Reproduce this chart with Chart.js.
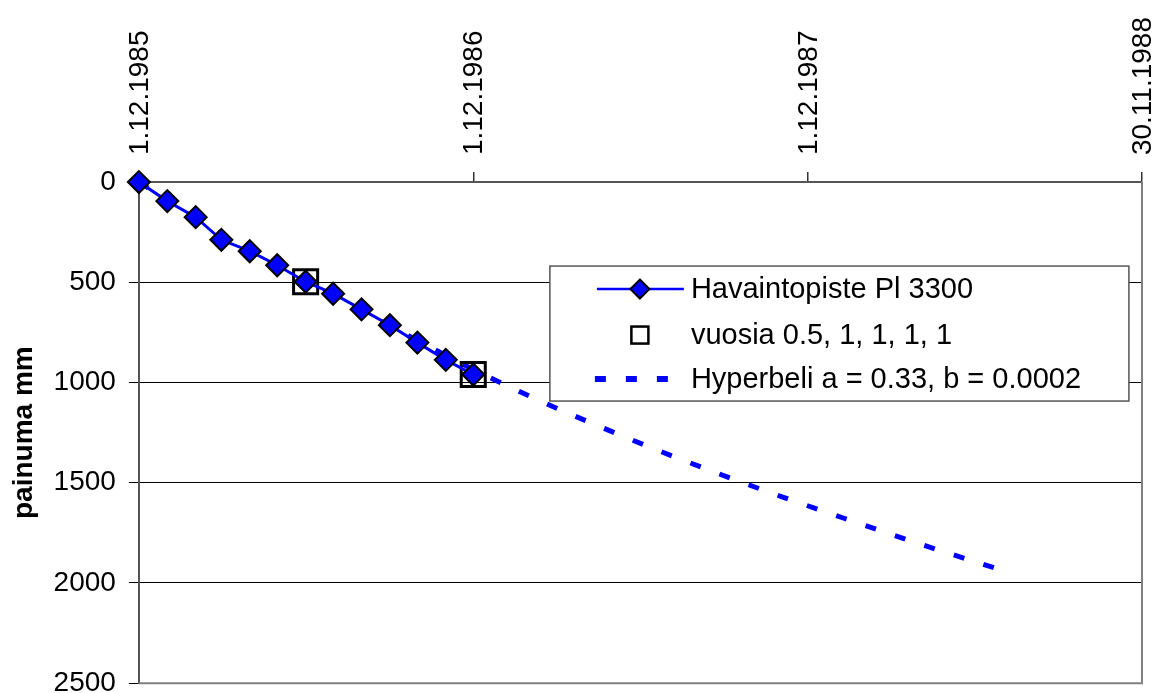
<!DOCTYPE html>
<html>
<head>
<meta charset="utf-8">
<script src="https://cdn.jsdelivr.net/npm/chart.js@4/dist/chart.umd.min.js"></script>
<style>
  html, body { margin: 0; padding: 0; background: #fff; overflow: hidden; }
  #wrap { width: 1162px; height: 713px; }
</style>
</head>
<body>
<div id="wrap"><canvas id="settlementChart" width="1162" height="713"></canvas></div>
<script>
// ── Data (x = days from 1.12.1985, y = painuma mm) ──
const obsDays = [0, 31, 62, 90, 121, 151, 182, 212, 243, 274, 304, 335, 365];
const obsValues = [0, 95, 175, 288, 345, 415, 497, 557, 635, 714, 801, 887, 960];

const yearDays = [182, 365];
const yearValues = [497, 960];

const hypDays = [0, 61, 121, 182, 243, 304, 365, 437, 498, 563, 630, 702, 778, 859, 948];
const hypValues = [0, 178, 340, 495, 645, 790, 935, 1090, 1210, 1332, 1450, 1570, 1690, 1815, 1945];

const tickDays = [0, 365, 730, 1095];
const tickLabels = ['1.12.1985', '1.12.1986', '1.12.1987', '30.11.1988'];
const yTicks = [0, 500, 1000, 1500, 2000, 2500];

const seriesNames = ['Havaintopiste Pl 3300', 'vuosia 0.5, 1, 1, 1, 1', 'Hyperbeli a = 0.33, b = 0.0002'];

const blue = '#0000FF';
const fontFamily = "'Liberation Sans', Arial, sans-serif";

const toPoints = (xs, ys) => xs.map((x, i) => ({ x: x, y: ys[i] }));

// plot frame (right + bottom) and the boxed legend inside the plot
const frameAndLegend = {
  id: 'frameAndLegend',
  afterDraw(chart) {
    const { ctx, chartArea } = chart;
    ctx.save();
    ctx.strokeStyle = '#808080';
    ctx.lineWidth = 2;
    ctx.beginPath();
    ctx.moveTo(chartArea.right, chartArea.top);
    ctx.lineTo(chartArea.right, chartArea.bottom);
    ctx.lineTo(chartArea.left, chartArea.bottom);
    ctx.stroke();

    const bx = chartArea.left + 411, by = chartArea.top + 84, bw = 579, bh = 135;
    ctx.fillStyle = '#fff';
    ctx.fillRect(bx, by, bw, bh);
    ctx.strokeStyle = '#555';
    ctx.lineWidth = 1.5;
    ctx.strokeRect(bx, by, bw, bh);

    const rows = [by + 23, by + 69, by + 113];
    const sx0 = bx + 47, sx1 = bx + 134, mx = bx + 90, tx = bx + 141;
    const ds = chart.data.datasets;

    // row 1: line + diamond
    ctx.strokeStyle = blue;
    ctx.lineWidth = 2.5;
    ctx.beginPath();
    ctx.moveTo(sx0, rows[0]);
    ctx.lineTo(sx1, rows[0]);
    ctx.stroke();
    ctx.fillStyle = blue;
    ctx.strokeStyle = '#000';
    ctx.lineWidth = 2;
    ctx.beginPath();
    ctx.moveTo(mx, rows[0] - 9.5);
    ctx.lineTo(mx + 9.5, rows[0]);
    ctx.lineTo(mx, rows[0] + 9.5);
    ctx.lineTo(mx - 9.5, rows[0]);
    ctx.closePath();
    ctx.fill();
    ctx.stroke();

    // row 2: square
    ctx.strokeStyle = '#000';
    ctx.lineWidth = 2.5;
    ctx.strokeRect(mx - 8.5, rows[1] - 8.5, 17, 17);

    // row 3: dashes
    ctx.strokeStyle = blue;
    ctx.lineWidth = 6;
    ctx.setLineDash([11, 20]);
    ctx.beginPath();
    ctx.moveTo(sx0 - 2, rows[2]);
    ctx.lineTo(sx1, rows[2]);
    ctx.stroke();
    ctx.setLineDash([]);

    ctx.fillStyle = '#000';
    ctx.font = '29px ' + fontFamily;
    ctx.textBaseline = 'middle';
    ctx.textAlign = 'left';
    rows.forEach((ry, i) => ctx.fillText(ds[i].label, tx, ry + 1));
    ctx.restore();
  }
};

new Chart(document.getElementById('settlementChart'), {
  type: 'scatter',
  data: {
    datasets: [
      {
        label: seriesNames[0],
        data: toPoints(obsDays, obsValues),
        showLine: true,
        clip: false,
        borderColor: blue,
        borderWidth: 3,
        tension: 0,
        pointStyle: 'rectRot',
        pointRadius: 11,
        pointBackgroundColor: blue,
        pointBorderColor: '#000',
        pointBorderWidth: 2
      },
      {
        label: seriesNames[1],
        data: toPoints(yearDays, yearValues),
        showLine: false,
        clip: false,
        pointStyle: 'rect',
        pointRadius: 17,
        pointBackgroundColor: 'rgba(0,0,0,0)',
        pointBorderColor: '#000',
        pointBorderWidth: 3
      },
      {
        label: seriesNames[2],
        data: toPoints(hypDays, hypValues),
        showLine: true,
        clip: false,
        borderColor: blue,
        borderWidth: 5,
        borderDash: [11, 20],
        borderCapStyle: 'butt',
        cubicInterpolationMode: 'monotone',
        pointRadius: 0
      }
    ]
  },
  options: {
    responsive: false,
    animation: false,
    layout: { padding: { left: 7, top: 0, right: 0, bottom: 0 } },
    plugins: {
      legend: { display: false },
      tooltip: { enabled: false }
    },
    scales: {
      x: {
        type: 'linear',
        position: 'top',
        min: tickDays[0],
        max: tickDays[tickDays.length - 1],
        afterBuildTicks: axis => { axis.ticks = tickDays.map(v => ({ value: v })); },
        grid: { drawOnChartArea: false, drawTicks: true, tickLength: 10, color: '#333', lineWidth: 1.5 },
        border: { display: true, color: '#555', width: 2 },
        ticks: {
          autoSkip: false,
          minRotation: 90,
          maxRotation: 90,
          padding: 17,
          labelOffset: 35,
          color: '#000',
          font: { family: fontFamily, size: 28 },
          callback: v => tickLabels[tickDays.indexOf(v)]
        }
      },
      y: {
        type: 'linear',
        reverse: true,
        min: yTicks[0],
        max: yTicks[yTicks.length - 1],
        afterBuildTicks: axis => { axis.ticks = yTicks.map(v => ({ value: v })); },
        grid: { color: '#000', lineWidth: 1, tickLength: 10, drawTicks: true },
        border: { display: true, color: '#555', width: 2 },
        ticks: {
          padding: 13,
          color: '#000',
          font: { family: fontFamily, size: 28 },
          callback: v => String(v)
        },
        title: {
          display: true,
          text: 'painuma mm',
          color: '#000',
          padding: { top: 0, bottom: 0 },
          font: { family: fontFamily, size: 28, weight: 'bold' }
        }
      }
    }
  },
  plugins: [frameAndLegend]
});
</script>
</body>
</html>
